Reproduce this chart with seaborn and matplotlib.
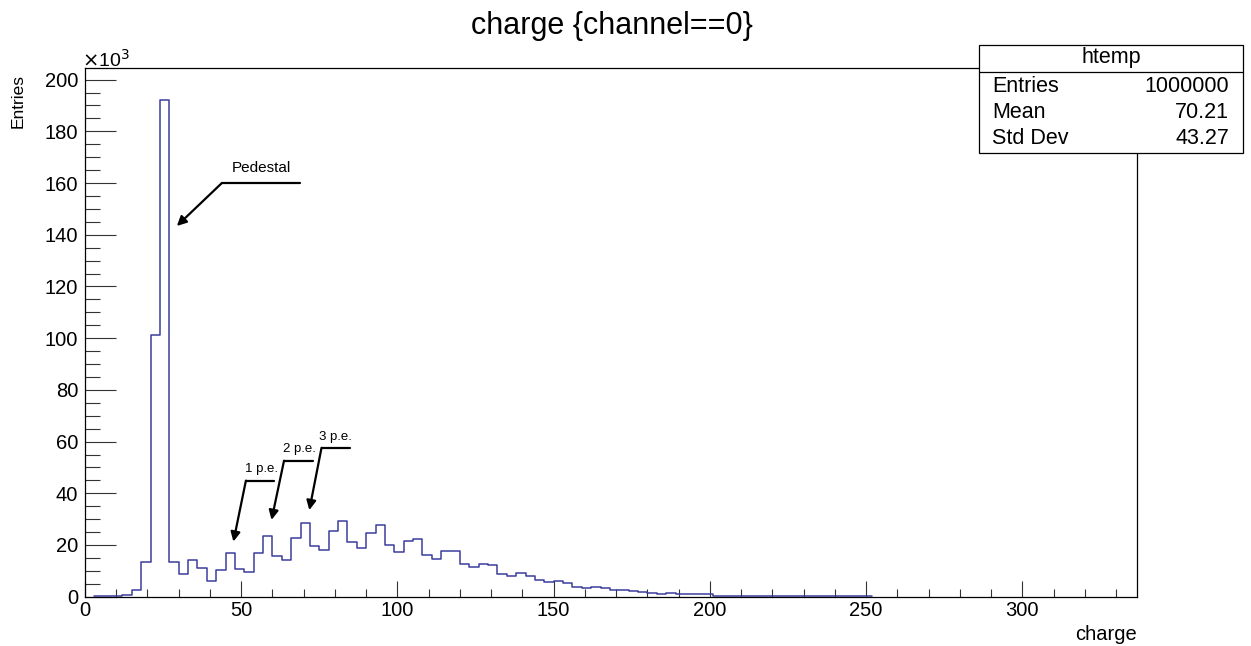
import numpy as np
import pandas as pd
import matplotlib
matplotlib.use("Agg")
import matplotlib.pyplot as plt
import seaborn as sns
from matplotlib.patches import Rectangle
from matplotlib.lines import Line2D

# ---- data (counts in units of 10^3, bins of width 3 starting at charge = 3) ----
counts = [
    0.2, 0.2, 0.3, 0.6, 2.6, 13.4, 101.2, 192.0, 13.4, 8.6,
    14.1, 11.0, 6.1, 10.3, 16.8, 10.6, 9.7, 16.8, 23.6, 15.7,
    14.3, 22.7, 28.4, 19.6, 18.1, 25.3, 29.3, 21.1, 18.7, 24.8,
    27.7, 20.0, 17.4, 21.4, 22.3, 16.2, 14.7, 17.8, 17.5, 12.6,
    11.3, 12.8, 12.4, 8.9, 8.0, 9.0, 8.0, 6.4, 5.7, 5.9,
    5.2, 3.7, 3.5, 3.7, 3.4, 2.7, 2.4, 2.2, 1.9, 1.5,
    1.2, 1.3, 1.0, 1.0, 0.9, 0.9, 0.4, 0.4, 0.4, 0.2,
    0.2, 0.2, 0.15, 0.15, 0.15, 0.15, 0.1, 0.1, 0.1, 0.1,
    0.1, 0.1, 0.1,
]
bin_start = 3.0
bin_width = 3.0
title = "charge {channel==0}"
stats_name = "htemp"
stats_rows = [("Entries", "1000000"), ("Mean", "70.21"), ("Std Dev", "43.27")]
x_ticks = [0, 50, 100, 150, 200, 250, 300]
y_ticks = [0, 20, 40, 60, 80, 100, 120, 140, 160, 180, 200]
annotations = [
    # text, text pos, line start, line end, arrow tip
    ("Pedestal", (56.6, 166.0), (43.8, 160.0), (68.8, 160.0), (29.4, 143.4)),
    ("1 p.e.", (56.5, 49.3), (51.5, 44.9), (60.5, 44.9), (47.5, 21.3)),
    ("2 p.e.", (68.5, 57.0), (63.7, 52.6), (73.0, 52.6), (59.7, 29.7)),
    ("3 p.e.", (80.2, 61.9), (75.7, 57.6), (84.8, 57.6), (71.8, 33.5)),
]

edges = [float(bin_start + bin_width * i) for i in range(len(counts) + 1)]
centers = [0.5 * (edges[i] + edges[i + 1]) for i in range(len(counts))]
df = pd.DataFrame({"charge": centers, "w": counts})

sns.set_style("white")
plt.rcParams["font.family"] = ["Liberation Sans", "DejaVu Sans"]
plt.rcParams["text.color"] = "black"
plt.rcParams["xtick.color"] = "black"
plt.rcParams["ytick.color"] = "black"
plt.rcParams["axes.labelcolor"] = "black"

W, H = 1251, 646
fig = plt.figure(figsize=(W / 100, H / 100), dpi=100)
ax = fig.add_axes([85 / W, 1 - 596.7 / H, (1137 - 85) / W, (596.7 - 68) / H])

sns.histplot(data=df, x="charge", weights="w", bins=edges, element="step",
             fill=False, color="#3a3d9c", linewidth=1.1, ax=ax)

ax.set_xlim(0, 336.7)
ax.set_ylim(0, 204.5)
ax.set_xticks(x_ticks)
ax.set_yticks(y_ticks)
ax.set_xticks(np.arange(0, 337, 10), minor=True)
ax.set_yticks(np.arange(0, 205, 5), minor=True)
ax.tick_params(axis="both", which="both", bottom=True, left=True, top=False, right=False)
ax.tick_params(axis="x", which="major", direction="in", length=11.5, width=0.8,
               labelsize=14.5, pad=3, color="#333333", labelcolor="black")
ax.tick_params(axis="x", which="minor", direction="in", length=6, width=0.8, color="#333333")
ax.tick_params(axis="y", which="major", direction="in", length=22.5, width=0.8,
               labelsize=14.5, pad=5, color="#333333", labelcolor="black")
ax.tick_params(axis="y", which="minor", direction="in", length=11, width=0.8, color="#333333")
for s in ax.spines.values():
    s.set_visible(True)
    s.set_linewidth(0.9)
    s.set_color("black")
ax.set_xlabel("")
ax.set_ylabel("")

# axis titles
fig.text(1137 / W, 1 - 634 / H, "charge", ha="right", va="center", fontsize=14.5)
fig.text(18 / W, 1 - 74 / H, "Entries", rotation=90, ha="center", va="top", fontsize=12.5)
fig.text(82 / W, 1 - 60 / H, r"$\times$10$^{3}$", ha="left", va="center", fontsize=14)
fig.text(612 / W, 1 - 26 / H, title, ha="center", va="center", fontsize=22)

# annotations
for txt, tpos, l0, l1, tip in annotations:
    ax.add_line(Line2D([l0[0], l1[0]], [l0[1], l1[1]], color="black", lw=1.6))
    ax.annotate("", xy=tip, xytext=l0,
                arrowprops=dict(arrowstyle="-|>", color="black", lw=1.6,
                                mutation_scale=14, shrinkA=0, shrinkB=0))
    ax.text(tpos[0], tpos[1], txt, ha="center", va="center",
            fontsize=11 if txt == "Pedestal" else 9.5)

# stats box
bx0, by0, bx1, by1 = 979, 45, 1243, 153
fig.add_artist(Rectangle((bx0 / W, 1 - by1 / H), (bx1 - bx0) / W, (by1 - by0) / H,
                         transform=fig.transFigure, facecolor="white",
                         edgecolor="black", lw=0.9, zorder=5))
fig.add_artist(Line2D([bx0 / W, bx1 / W], [1 - 72 / H, 1 - 72 / H],
                      transform=fig.transFigure, color="black", lw=0.9, zorder=6))
fig.text(1111 / W, 1 - 58 / H, stats_name, ha="center", va="center", fontsize=15.5, zorder=7)
for i, (k, v) in enumerate(stats_rows):
    yy = 1 - (87 + 25.5 * i) / H
    fig.text(992 / W, yy, k, ha="left", va="center", fontsize=15.5, zorder=7)
    fig.text(1229 / W, yy, v, ha="right", va="center", fontsize=15.5, zorder=7)

fig.savefig("out.png", dpi=100)
